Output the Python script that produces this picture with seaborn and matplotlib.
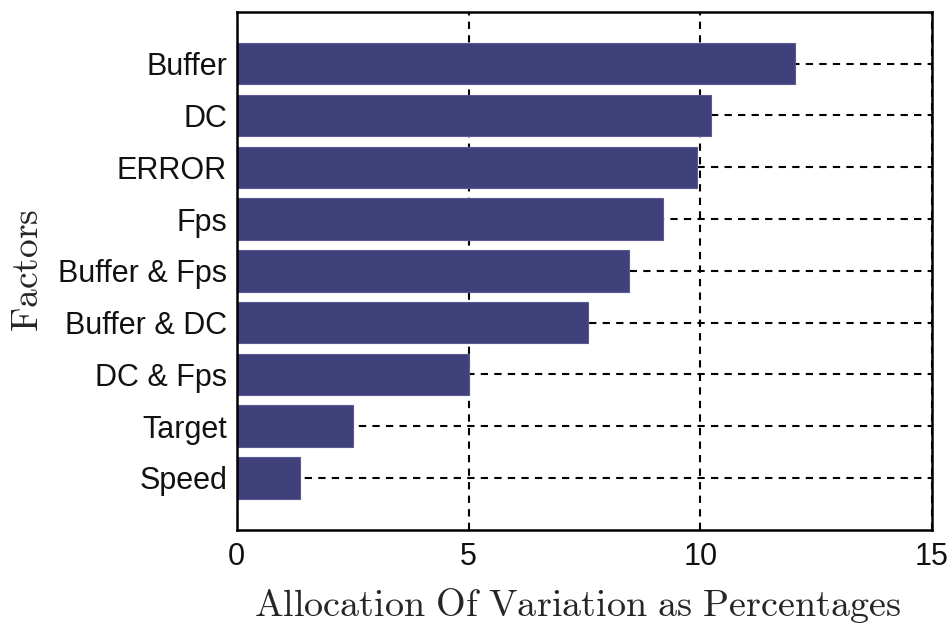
import matplotlib
matplotlib.use("Agg")
import matplotlib.pyplot as plt
import seaborn as sns
import pandas as pd

factors = ["Buffer", "DC", "ERROR", "Fps", "Buffer & Fps", "Buffer & DC",
           "DC & Fps", "Target", "Speed"]
allocation = [12.05, 10.24, 9.93, 9.19, 8.47, 7.58, 5.01, 2.50, 1.36]
x_ticks = [0, 5, 10, 15]

df = pd.DataFrame({"factor": factors, "allocation": allocation})

sns.set_style("white")
plt.rcParams["font.family"] = ["Liberation Sans", "DejaVu Sans"]
plt.rcParams["mathtext.fontset"] = "cm"

fig = plt.figure(figsize=(9.51, 6.24), dpi=100)
ax = fig.add_axes([0.249, 0.151, 0.731, 0.830])

sns.barplot(data=df, x="allocation", y="factor", orient="h", ax=ax,
            color="#40407b", saturation=1, width=0.8,
            edgecolor="#5a5a92", linewidth=0.8, zorder=2)

ax.set_xlim(0, 15)
ax.set_ylim(len(factors), -1)
ax.set_xticks(x_ticks)
ax.set_xticklabels([str(t) for t in x_ticks])

ax.set_axisbelow(True)
ax.grid(True, axis="both", color="black", linestyle=(0, (3.5, 3)), linewidth=1.5)

for s in ax.spines.values():
    s.set_visible(True)
    s.set_color("black")
    s.set_linewidth(1.8)

ax.tick_params(axis="both", length=0, labelsize=22, colors="#111111")
ax.tick_params(axis="y", pad=7)
ax.tick_params(axis="x", pad=9)

ax.set_xlabel(r"$\mathrm{Allocation\ Of\ Variation\ as\ Percentages}$",
              fontsize=27.5)
ax.xaxis.set_label_coords(0.49, -0.108)
ax.set_ylabel(r"$\mathrm{Factors}$", fontsize=27, labelpad=9)

fig.savefig("out.png", dpi=100)
